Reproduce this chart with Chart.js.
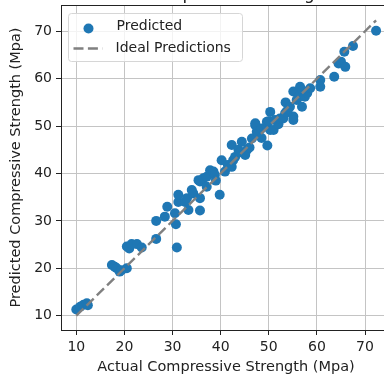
<!DOCTYPE html>
<html>
<head>
<meta charset="utf-8">
<title>Actual vs Predicted</title>
<script src="https://cdn.jsdelivr.net/npm/chart.js@4.4.1/dist/chart.umd.min.js"></script>
<style>
  html, body { margin: 0; padding: 0; background: #fff; overflow: hidden; }
  #wrap { width: 384px; height: 379px; overflow: hidden; }
</style>
</head>
<body>
<div id="wrap"><canvas id="myScatter" width="400" height="379"></canvas></div>
<script>
/* global Chart */

const actual = [
  10.0, 10.8, 11.5, 12.2, 12.4, 17.4, 18.0, 18.4, 19.0, 19.4,
  20.5, 20.5, 21.0, 21.5, 22.6, 23.6, 26.6, 26.6, 28.4, 28.9,
  30.5, 30.7, 30.9, 31.2, 31.2, 32.6, 33.0, 33.3, 34.0, 34.3,
  35.4, 35.7, 35.7, 35.7, 36.4, 37.1, 37.1, 37.8, 38.5, 38.8,
  39.0, 39.8, 40.2, 40.9, 41.5, 42.3, 42.3, 42.6, 43.0, 43.7,
  44.0, 44.4, 45.1, 45.5, 46.0, 46.5, 47.2, 47.2, 47.5, 47.8,
  48.5, 48.5, 49.6, 49.6, 49.7, 50.0, 50.3, 50.3, 51.0, 51.3,
  52.0, 52.3, 53.0, 53.4, 53.5, 53.7, 54.0, 54.4, 55.1, 55.1,
  55.1, 55.8, 56.2, 56.5, 56.9, 57.0, 57.5, 58.0, 58.6, 60.7,
  60.7, 63.6, 64.5, 65.0, 65.7, 65.9, 67.5, 72.3
];
const predicted = [
  11.3, 11.9, 12.3, 12.6, 12.2, 20.7, 20.3, 20.0, 19.3, 19.6,
  20.0, 24.6, 24.2, 25.1, 25.1, 24.4, 26.2, 30.0, 30.9, 33.0,
  31.6, 29.3, 24.4, 34.0, 35.5, 34.0, 34.8, 32.3, 36.5, 35.8,
  38.6, 32.2, 34.8, 38.3, 39.0, 39.3, 37.2, 40.7, 40.4, 39.7,
  38.5, 35.5, 42.8, 40.4, 41.8, 41.4, 46.0, 42.8, 43.5, 45.0,
  44.5, 46.7, 43.9, 45.0, 45.5, 47.4, 50.2, 50.6, 48.8, 48.5,
  49.5, 47.5, 49.9, 50.9, 45.9, 51.0, 53.0, 49.2, 49.2, 51.3,
  50.4, 51.6, 51.6, 52.7, 55.0, 53.0, 53.5, 54.1, 52.0, 57.3,
  51.3, 55.5, 56.2, 58.3, 54.1, 57.5, 56.2, 57.0, 58.0, 59.7,
  58.3, 60.4, 63.2, 63.6, 65.7, 62.5, 66.9, 70.1
];
// ideal line runs from the smallest to the largest actual value
const ideal = [10.0, 72.3];

const xTicks = [10, 20, 30, 40, 50, 60, 70];
const yTicks = [10, 20, 30, 40, 50, 60, 70];

const chartTitle = 'Compressive Strength';
const xLabel = 'Actual Compressive Strength (Mpa)';
const yLabel = 'Predicted Compressive Strength (Mpa)';
const seriesNames = ['Predicted', 'Ideal Predictions'];

const plot = (function () {
  'use strict';

  const blue = '#1f77b4';
  const grey = '#808080';
  const ink = '#222';
  const fontFamily = '"DejaVu Sans", sans-serif';

  // matplotlib style frame, title and legend drawn on top of the chart
  const decor = {
    id: 'decor',
    afterDraw (chart) {
      const ctx = chart.ctx;
      const area = chart.chartArea;
      ctx.save();

      ctx.strokeStyle = ink;
      ctx.lineWidth = 1;
      ctx.strokeRect(Math.round(area.left) + 0.5, Math.round(area.top) + 0.5,
        Math.round(area.right - area.left), Math.round(area.bottom - area.top));

      ctx.fillStyle = ink;
      ctx.font = '17px ' + fontFamily;
      ctx.textAlign = 'center';
      ctx.textBaseline = 'alphabetic';
      ctx.fillText(chartTitle, (area.left + area.right) / 2 + 12, area.top - 6);

      const bx = area.left + 7.5;
      const by = area.top + 8.5;
      ctx.beginPath();
      ctx.roundRect(bx, by, 174, 48, 3);
      ctx.fillStyle = 'rgba(255,255,255,0.8)';
      ctx.fill();
      ctx.strokeStyle = '#d6d6d6';
      ctx.stroke();

      ctx.beginPath();
      ctx.arc(bx + 20, by + 15, 5, 0, Math.PI * 2);
      ctx.fillStyle = blue;
      ctx.fill();

      ctx.beginPath();
      ctx.setLineDash([10, 4.4]);
      ctx.moveTo(bx + 5, by + 35);
      ctx.lineTo(bx + 34, by + 35);
      ctx.strokeStyle = grey;
      ctx.lineWidth = 2.4;
      ctx.stroke();
      ctx.setLineDash([]);

      ctx.fillStyle = ink;
      ctx.font = '14px ' + fontFamily;
      ctx.textAlign = 'left';
      ctx.textBaseline = 'middle';
      ctx.fillText(seriesNames[0], bx + 48, by + 13);
      ctx.fillText(seriesNames[1], bx + 47, by + 35);
      ctx.restore();
    }
  };

  function axis (ticks, min, max, label, titlePad, fit) {
    return {
      type: 'linear',
      min: min,
      max: max,
      afterBuildTicks: function (scale) {
        scale.ticks = ticks.map(function (v) { return { value: v }; });
      },
      afterFit: function (scale) {
        fit(scale);
        scale.paddingTop = 0;
        scale.paddingBottom = 0;
        scale.paddingLeft = 0;
        scale.paddingRight = 0;
      },
      grid: {
        color: '#c4c4c4',
        lineWidth: 1,
        tickColor: ink,
        tickLength: 5
      },
      border: { color: ink, width: 1 },
      ticks: {
        color: ink,
        padding: 4,
        maxRotation: 0,
        font: { family: fontFamily, size: 14 }
      },
      title: {
        display: true,
        text: label,
        color: ink,
        padding: titlePad,
        font: { family: fontFamily, size: 14.5 }
      }
    };
  }

  function init () {
    const points = [];
    for (let i = 0; i < actual.length; i++) {
      points.push({ x: actual[i], y: predicted[i] });
    }
    const line = ideal.map(function (v) { return { x: v, y: v }; });

    new Chart(document.getElementById('myScatter'), {
      type: 'scatter',
      data: {
        datasets: [{
          label: seriesNames[0],
          data: points,
          backgroundColor: blue,
          borderWidth: 0,
          pointRadius: 5,
          order: 1
        }, {
          type: 'line',
          label: seriesNames[1],
          data: line,
          borderColor: grey,
          borderWidth: 2.4,
          borderDash: [10, 4.4],
          pointRadius: 0,
          fill: false,
          order: 0
        }]
      },
      options: {
        responsive: false,
        animation: false,
        devicePixelRatio: 1,
        layout: { padding: { top: 5, right: 9, left: 0, bottom: 0 } },
        plugins: {
          legend: { display: false },
          tooltip: { enabled: false },
          title: { display: false }
        },
        scales: {
          x: axis(xTicks, 6.82, 75.4, xLabel, { top: 0, bottom: 3 },
            function (scale) { scale.height = 49; }),
          y: axis(yTicks, 6.98, 75.55, yLabel, { top: 8, bottom: 0 },
            function (scale) { scale.width = 61; })
        }
      },
      plugins: [decor]
    });
  }

  return {
    init: init
  };
}());

window.addEventListener('load', plot.init);
</script>
</body>
</html>
